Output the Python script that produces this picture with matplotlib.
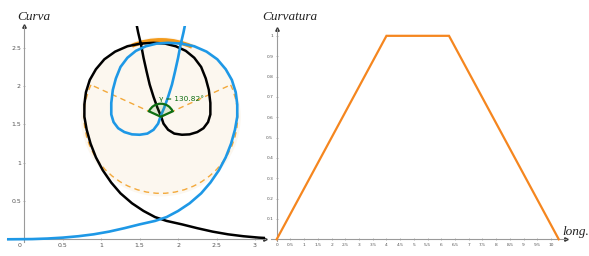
import numpy as np
import matplotlib.pyplot as plt
from matplotlib.patches import Circle, Wedge, Arc

# curve (blue) and its mirror (black)
blue_x = [-0.23, 0.10, 0.30, 0.50, 0.70, 0.90, 1.10, 1.30, 1.50, 1.70, 1.85, 2.00, 2.15,
          2.30, 2.42, 2.53, 2.62, 2.69, 2.74, 2.77, 2.77, 2.75, 2.70, 2.62, 2.51, 2.37,
          2.21, 2.04, 1.87, 1.72, 1.58, 1.45, 1.34, 1.25, 1.19, 1.15, 1.13, 1.13, 1.16,
          1.22, 1.30, 1.40, 1.50, 1.60, 1.68, 1.74, 1.77, 1.82, 1.87, 1.92, 1.96, 2.00,
          2.03, 2.07, 2.10]
blue_y = [0.000, 0.003, 0.010, 0.022, 0.040, 0.065, 0.100, 0.145, 0.195, 0.240, 0.29, 0.37,
          0.47, 0.60, 0.74, 0.90, 1.07, 1.25, 1.43, 1.60, 1.76, 1.92, 2.08, 2.22, 2.35,
          2.45, 2.52, 2.555, 2.565, 2.555, 2.52, 2.46, 2.37, 2.25, 2.10, 1.95, 1.78, 1.63,
          1.53, 1.45, 1.40, 1.37, 1.365, 1.38, 1.43, 1.51, 1.60, 1.72, 1.86, 2.02, 2.19,
          2.37, 2.53, 2.70, 2.85]
black_x = [3.78, 3.45, 3.25, 3.05, 2.85, 2.65, 2.45, 2.25, 2.05, 1.85, 1.70, 1.55, 1.40,
           1.25, 1.13, 1.02, 0.93, 0.86, 0.81, 0.78, 0.78, 0.80, 0.85, 0.93, 1.04, 1.18,
           1.34, 1.51, 1.68, 1.83, 1.97, 2.10, 2.21, 2.30, 2.36, 2.40, 2.42, 2.42, 2.39,
           2.33, 2.25, 2.15, 2.05, 1.95, 1.87, 1.81, 1.78, 1.73, 1.68, 1.63, 1.59, 1.55,
           1.52, 1.48, 1.45]
black_y = blue_y[:]

circle_center = (1.775, 1.60)
circle_r = 1.0
gamma_deg = 130.82

# curvature diagram
curv_s = [0, 4, 6.28, 10.28]
curv_k = [0, 1, 1, 0]

ORANGE = '#F5861F'
DASH = '#F3A93B'
BLUE = '#1E98E6'
GREEN = '#0E6E12'
AXC = '#9A9A9A'
TXT = '#555555'

fig = plt.figure(figsize=(5.89, 2.56), dpi=100)


def style_axes(ax):
    for side in ['top', 'right']:
        ax.spines[side].set_visible(False)
    ax.spines['left'].set_position(('data', 0))
    ax.spines['bottom'].set_position(('data', 0))
    for side in ['left', 'bottom']:
        ax.spines[side].set_color(AXC)
        ax.spines[side].set_linewidth(0.8)
    ax.plot(1, 0, '>', color='#333333', ms=2.5, transform=ax.get_yaxis_transform(), clip_on=False)
    ax.plot(0, 1, '^', color='#333333', ms=2.5, transform=ax.get_xaxis_transform(), clip_on=False)
    ax.tick_params(direction='inout', length=2, width=0.5, color=AXC, labelcolor=TXT, pad=1.5)


# left: the curve
ax1 = fig.add_axes([0.01155, 0.05625, 0.4382, 0.8438])
ax1.set_xlim(-0.23, 3.13)
ax1.set_ylim(-0.03, 2.79)
style_axes(ax1)

ax1.add_patch(Circle(circle_center, circle_r * 1.04, facecolor='#FCF7EF', edgecolor='none',
                     zorder=1))
a1 = 90 - gamma_deg / 2
a2 = 90 + gamma_deg / 2
cx, cy = circle_center
# dashed lower part of the circle and the two radii
ax1.add_patch(Arc(circle_center, 2 * circle_r, 2 * circle_r, theta1=a2, theta2=a1 + 360,
                  color=DASH, lw=1.0, ls=(0, (4, 3)), zorder=2))
for a in (a1, a2):
    ax1.plot([cx, cx + circle_r * np.cos(np.radians(a))],
             [cy, cy + circle_r * np.sin(np.radians(a))],
             color=DASH, lw=1.0, ls=(0, (4, 3)), zorder=2)
# only the top of the solid arc shows between the two curves
ax1.add_patch(Arc(circle_center, 2 * circle_r, 2 * circle_r, theta1=66, theta2=112,
                  color='#F39A1A', lw=3, zorder=3))
ax1.add_patch(Wedge(circle_center, 0.17, a1, a2, facecolor=(0.3, 0.6, 0.2, 0.15),
                    edgecolor=GREEN, lw=1.6, zorder=6))
ax1.text(cx - 0.03, cy + 0.24, 'γ = %.2f°' % gamma_deg, color=GREEN, fontsize=5.3,
         ha='left', va='center', zorder=7)

ax1.plot(black_x, black_y, color='black', lw=1.8, solid_joinstyle='round', zorder=4)
ax1.plot(blue_x, blue_y, color=BLUE, lw=1.9, solid_joinstyle='round', zorder=5)

ax1.set_xticks([0.5, 1, 1.5, 2, 2.5, 3])
ax1.set_xticklabels(['0.5', '1', '1.5', '2', '2.5', '3'])
ax1.set_yticks([0.5, 1, 1.5, 2, 2.5])
ax1.set_yticklabels(['0.5', '1', '1.5', '2', '2.5'])
ax1.tick_params(labelsize=4.5)
ax1.text(-0.04, -0.05, '0', fontsize=4.5, color=TXT, ha='right', va='top')

# right: curvature
ax2 = fig.add_axes([0.4605, 0.0574, 0.5007, 0.8305])
ax2.set_xlim(-0.2, 10.55)
ax2.set_ylim(-0.01, 1.035)
style_axes(ax2)
ax2.plot(curv_s, curv_k, color=ORANGE, lw=1.6, solid_joinstyle='miter', zorder=4)
xt = np.arange(0, 10.01, 0.5)
ax2.set_xticks(xt)
ax2.set_xticklabels(['%g' % v for v in xt])
yt = np.arange(0.1, 1.01, 0.1)
ax2.set_yticks(yt)
ax2.set_yticklabels(['%g' % round(v, 1) for v in yt])
ax2.tick_params(labelsize=3.2)

lab = dict(family='Liberation Serif', style='italic', fontsize=9.5, color='#222222', va='center')
fig.text(17 / 589, 1 - 17 / 256, 'Curva', **lab)
fig.text(262 / 589, 1 - 17 / 256, 'Curvatura', **lab)
fig.text(562 / 589, 1 - 232 / 256, 'long.', **lab)

fig.savefig('out.png', dpi=100)
